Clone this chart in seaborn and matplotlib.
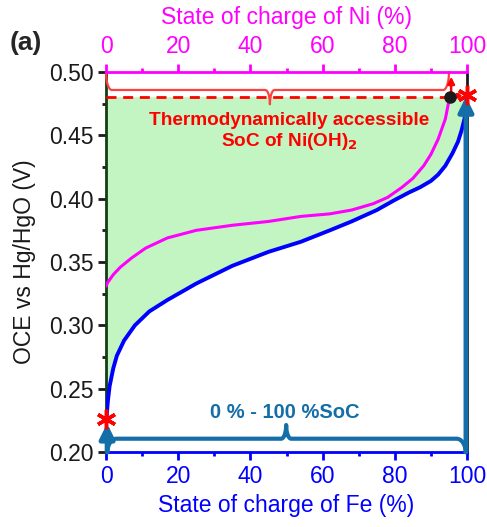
import numpy as np
import pandas as pd
import seaborn as sns
import matplotlib.pyplot as plt
from matplotlib.ticker import MultipleLocator, FormatStrFormatter

# Fe electrode OCE vs state of charge (bottom axis)
fe_soc = [0, 0.5, 1, 2, 3, 5, 8, 12, 17, 25, 35, 45, 54, 62, 68, 75, 80, 84, 87, 90, 92, 94,
          96, 97.5, 98.5, 99.3, 100]
fe_ocv = [0.222, 0.240, 0.252, 0.266, 0.276, 0.288, 0.300, 0.311, 0.320, 0.333, 0.347, 0.358, 0.366,
          0.375, 0.382, 0.391, 0.399, 0.405, 0.409, 0.414, 0.419, 0.426, 0.436, 0.445, 0.454, 0.463, 0.482]

# Ni electrode OCE vs state of charge (top axis)
ni_soc = [0, 0.5, 2, 4, 7, 11, 17, 25, 35, 45, 54, 62, 68, 74, 78, 82, 85, 88, 90, 92, 94, 95.2]
ni_ocv = [0.331, 0.334, 0.340, 0.346, 0.353, 0.361, 0.369, 0.375, 0.379, 0.382, 0.386, 0.388,
          0.391, 0.396, 0.401, 0.409, 0.416, 0.426, 0.435, 0.447, 0.463, 0.4805]

ocv_limit = 0.4805     # thermodynamic upper limit (dashed line)
ni_end = 95.2          # Ni SoC where the limit is reached
fe_star = [0, 0.226]
end_star = [100, 0.482]

x_ticks = [0, 20, 40, 60, 80, 100]
y_ticks = [0.20, 0.25, 0.30, 0.35, 0.40, 0.45, 0.50]

steel = '#146ea8'
red = '#ff0000'
mag = '#ff00ff'
blue = '#0000ff'
fs = 16.5

sns.set_theme(style='ticks')
plt.rcParams['font.family'] = ['Liberation Sans', 'DejaVu Sans']


def brace(x0, x1, xm, yb, yl, yt, r, rm):
    # curly brace path: ends at yb, body at yl, tip at yt
    t = np.linspace(0, np.pi / 2, 25)
    xs = np.concatenate([x0 + r * (1 - np.cos(t)),
                         xm - rm + rm * np.sin(t),
                         xm + rm - rm * np.sin(t[::-1]),
                         x1 - r * (1 - np.cos(t[::-1]))])
    ys = np.concatenate([yb + (yl - yb) * np.sin(t),
                         yl + (yt - yl) * (1 - np.cos(t)),
                         yl + (yt - yl) * (1 - np.cos(t[::-1])),
                         yb + (yl - yb) * np.sin(t[::-1])])
    return xs, ys


fig = plt.figure(figsize=(4.87, 5.27), dpi=100, facecolor='w')
ax = fig.add_axes([0.2177, 0.1423, 0.7413, 0.7211])

fe = pd.DataFrame({'soc': fe_soc, 'ocv': fe_ocv})
ni = pd.DataFrame({'soc': ni_soc, 'ocv': ni_ocv})

ax.fill_between(fe['soc'], fe['ocv'], ocv_limit, color='#c2f5c2', lw=0, zorder=1)
sns.lineplot(data=fe, x='soc', y='ocv', ax=ax, color=blue, lw=2.8, zorder=4)
sns.lineplot(data=ni, x='soc', y='ocv', ax=ax, color=mag, lw=2.2, zorder=4)

ax.plot([0, ni_end - 1], [ocv_limit, ocv_limit], color=red, lw=2, dashes=(3.6, 2.4), zorder=5)

# red brace on top
bx, by = brace(0, 95, 45.4, 0.50, 0.4858, 0.4745, 1.6, 1.3)
ax.plot(bx, by, color='#ff4040', lw=1.6, zorder=5, clip_on=False)
ax.annotate('', xy=(95.6, 0.4985), xytext=(95.6, 0.482),
            arrowprops=dict(arrowstyle='-|>', color=red, lw=1.8, mutation_scale=10), zorder=6)
ax.annotate('', xy=(99.6, 0.4812), xytext=(ni_end, 0.4812),
            arrowprops=dict(arrowstyle='<|-|>', color=red, lw=1.5, mutation_scale=7), zorder=6)
ax.text(50.7, 0.462, 'Thermodynamically accessible', color=red, fontsize=13.7,
        fontweight='bold', ha='center', va='center', zorder=6)
ax.text(50.7, 0.4455, 'SoC of Ni(OH)$_\\mathbf{2}$', color=red, fontsize=13.7,
        fontweight='bold', ha='center', va='center', zorder=6)

# blue brace at bottom
bx, by = brace(0.4, 99.6, 49.9, 0.2, 0.2105, 0.2213, 2.5, 1.4)
ax.plot(bx, by, color=steel, lw=3, zorder=5, clip_on=False)
ax.text(49.6, 0.2308, '0 % - 100 %SoC', color=steel, fontsize=14.5,
        fontweight='bold', ha='center', va='center', zorder=6)
ax.annotate('', xy=(0.3, 0.2225), xytext=(0.3, 0.2),
            arrowprops=dict(arrowstyle='-|>', color=steel, lw=3.5, mutation_scale=22,
                            shrinkA=0, shrinkB=0), zorder=6)
ax.annotate('', xy=(99.7, 0.4805), xytext=(99.7, 0.2),
            arrowprops=dict(arrowstyle='-|>', color=steel, lw=3.5, mutation_scale=22,
                            shrinkA=0, shrinkB=0), zorder=6)

ax.plot([ni_end], [ocv_limit], 'o', color='k', ms=8, zorder=7)
ax.plot([fe_star[0], end_star[0]], [fe_star[1], end_star[1]], ls='none', marker=(6, 2, 0),
        ms=14, mew=2.5, color=red, zorder=8, clip_on=False)

ax.set_xlim(0, 100)
ax.set_ylim(0.20, 0.50)
ax.set_xticks(x_ticks)
ax.set_yticks(y_ticks)
ax.xaxis.set_minor_locator(MultipleLocator(10))
ax.yaxis.set_minor_locator(MultipleLocator(0.025))
ax.yaxis.set_major_formatter(FormatStrFormatter('%.2f'))
ax.set_xlabel('State of charge of Fe (%)', color=blue, fontsize=fs, labelpad=5)
ax.set_ylabel('OCE vs Hg/HgO (V)', color='k', fontsize=fs, labelpad=9)
ax.tick_params(axis='x', which='both', colors=blue, labelsize=fs, direction='out', width=2, pad=3)
ax.tick_params(axis='x', which='major', length=6)
ax.tick_params(axis='x', which='minor', length=3)
ax.tick_params(axis='y', which='both', colors='k', labelsize=fs, direction='out', width=2, pad=3)
ax.tick_params(axis='y', which='major', length=6)
ax.tick_params(axis='y', which='minor', length=3)
ax.spines['bottom'].set_color(blue)
ax.spines['left'].set_color('#143d14')
ax.spines['right'].set_color('k')
ax.spines['top'].set_visible(False)
for s in ax.spines.values():
    s.set_linewidth(2)

ax2 = ax.twiny()
ax2.set_xlim(0, 100)
ax2.set_xticks(x_ticks)
ax2.xaxis.set_minor_locator(MultipleLocator(10))
ax2.set_xlabel('State of charge of Ni (%)', color=mag, fontsize=fs, labelpad=8)
ax2.tick_params(axis='x', which='both', colors=mag, labelsize=fs, direction='out', width=2, pad=4)
ax2.tick_params(axis='x', which='major', length=6)
ax2.tick_params(axis='x', which='minor', length=3)
for k in ['bottom', 'left', 'right']:
    ax2.spines[k].set_visible(False)
ax2.spines['top'].set_color(mag)
ax2.spines['top'].set_linewidth(2)

fig.text(0.02, 0.918, '(a)', fontsize=19, fontweight='bold', ha='left', va='center')

fig.savefig('out.png', dpi=100, facecolor='w')
